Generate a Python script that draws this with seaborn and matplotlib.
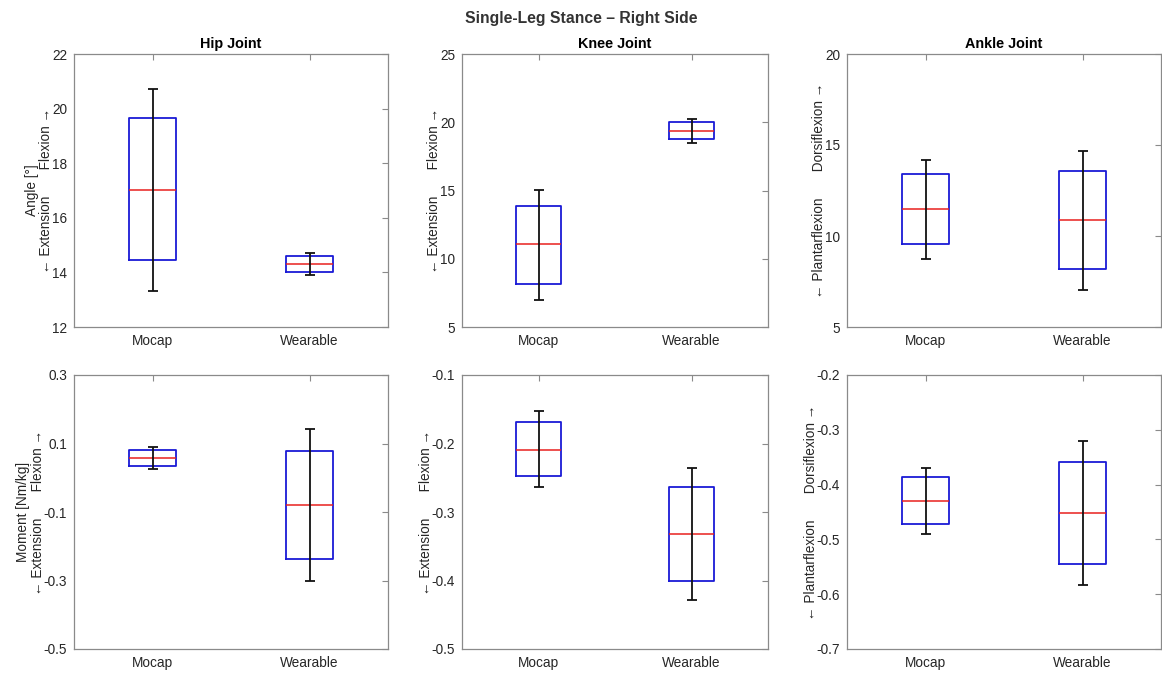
import numpy as np
import pandas as pd
import matplotlib
matplotlib.use("Agg")
import matplotlib.pyplot as plt
import seaborn as sns

# ---------------- data (low whisker, Q1, median, Q3, high whisker) ----------------
groups = ["Mocap", "Wearable"]

hip_angle_mocap = [13.33, 14.44, 17.03, 19.64, 20.71]
hip_angle_wear = [13.90, 14.03, 14.31, 14.59, 14.71]
knee_angle_mocap = [7.01, 8.18, 11.05, 13.89, 15.06]
knee_angle_wear = [18.46, 18.78, 19.39, 20.01, 20.23]
ankle_angle_mocap = [8.75, 9.55, 11.48, 13.39, 14.16]
ankle_angle_wear = [7.06, 8.18, 10.86, 13.56, 14.68]

hip_moment_mocap = [0.027, 0.034, 0.058, 0.080, 0.089]
hip_moment_wear = [-0.301, -0.237, -0.080, 0.079, 0.142]
knee_moment_mocap = [-0.264, -0.248, -0.209, -0.169, -0.153]
knee_moment_wear = [-0.429, -0.401, -0.332, -0.264, -0.236]
ankle_moment_mocap = [-0.491, -0.472, -0.430, -0.387, -0.370]
ankle_moment_wear = [-0.584, -0.544, -0.452, -0.358, -0.320]

titles = ["Hip Joint", "Knee Joint", "Ankle Joint"]
suptitle = "Single-Leg Stance \u2013 Right Side"

ext_flex = "\u2190 Extension       Flexion \u2192"
plant_dorsi = "\u2190 Plantarflexion       Dorsiflexion \u2192"
ylabels = [
    ["Angle [\u00b0]\n" + ext_flex, ext_flex, plant_dorsi],
    ["Moment [Nm/kg]\n" + ext_flex, ext_flex, plant_dorsi],
]

yticks = [
    [[12, 14, 16, 18, 20, 22], [5, 10, 15, 20, 25], [5, 10, 15, 20]],
    [[-0.5, -0.3, -0.1, 0.1, 0.3], [-0.5, -0.4, -0.3, -0.2, -0.1],
     [-0.7, -0.6, -0.5, -0.4, -0.3, -0.2]],
]

panels = [
    [(hip_angle_mocap, hip_angle_wear), (knee_angle_mocap, knee_angle_wear),
     (ankle_angle_mocap, ankle_angle_wear)],
    [(hip_moment_mocap, hip_moment_wear), (knee_moment_mocap, knee_moment_wear),
     (ankle_moment_mocap, ankle_moment_wear)],
]

# ---------------- style ----------------
sns.set_style("white")
plt.rcParams["font.family"] = ["Liberation Sans", "DejaVu Sans"]
SPINE = "#8a8a8a"
TXT = "#262626"

W, H = 1162, 673
fig = plt.figure(figsize=(W / 100, H / 100), dpi=100)

col_px = [(74, 388), (462, 768), (847, 1161)]
row_px = [(54, 327), (375, 649)]

for r in range(2):
    for c in range(3):
        x0, x1 = col_px[c]
        y0, y1 = row_px[r]
        ax = fig.add_axes([x0 / W, 1 - y1 / H, (x1 - x0) / W, (y1 - y0) / H])
        mocap, wear = panels[r][c]
        df = pd.DataFrame({
            "group": [groups[0]] * len(mocap) + [groups[1]] * len(wear),
            "value": list(mocap) + list(wear),
        })
        sns.boxplot(
            data=df, x="group", y="value", order=groups, ax=ax,
            width=0.3, whis=np.inf, fill=False, color="#1010e0",
            linewidth=1.3, showfliers=False,
            boxprops={"color": "#1a1ad6", "linewidth": 1.3},
            medianprops={"color": "#e8211e", "linewidth": 1.1},
            whiskerprops={"visible": False},
            capprops={"visible": False},
        )
        lo = np.array([mocap[0], wear[0]])
        med = np.array([mocap[2], wear[2]])
        hi = np.array([mocap[4], wear[4]])
        ax.errorbar([0, 1], med, yerr=[med - lo, hi - med], fmt="none",
                    ecolor="#111111", elinewidth=1.3, capsize=3.3,
                    capthick=1.3, zorder=4)

        ax.set_xlim(-0.5, 1.5)
        yt = yticks[r][c]
        ax.set_ylim(yt[0], yt[-1])
        ax.set_yticks(yt)
        ax.set_yticklabels([f"{v:g}" for v in yt])
        ax.set_xticks([0, 1])
        ax.set_xticklabels(groups)
        ax.set_xlabel("")
        ax.set_ylabel(ylabels[r][c], fontsize=9.8, color=TXT, labelpad=-1,
                      linespacing=1.05)
        ax.tick_params(axis="both", direction="in", length=4, width=0.8,
                       color=SPINE, labelsize=9.8, labelcolor=TXT,
                       top=True, right=True, pad=5)
        for s in ax.spines.values():
            s.set_visible(True)
            s.set_color(SPINE)
            s.set_linewidth(0.9)
        if r == 0:
            ax.set_title(titles[c], fontsize=10.4, fontweight="bold",
                         color="black", pad=4)

fig.suptitle(suptitle, x=0.5, y=1 - 18 / H, va="center", fontsize=11.3,
             fontweight="bold", color="#333333")

fig.savefig("out.png", dpi=100, facecolor="white")
